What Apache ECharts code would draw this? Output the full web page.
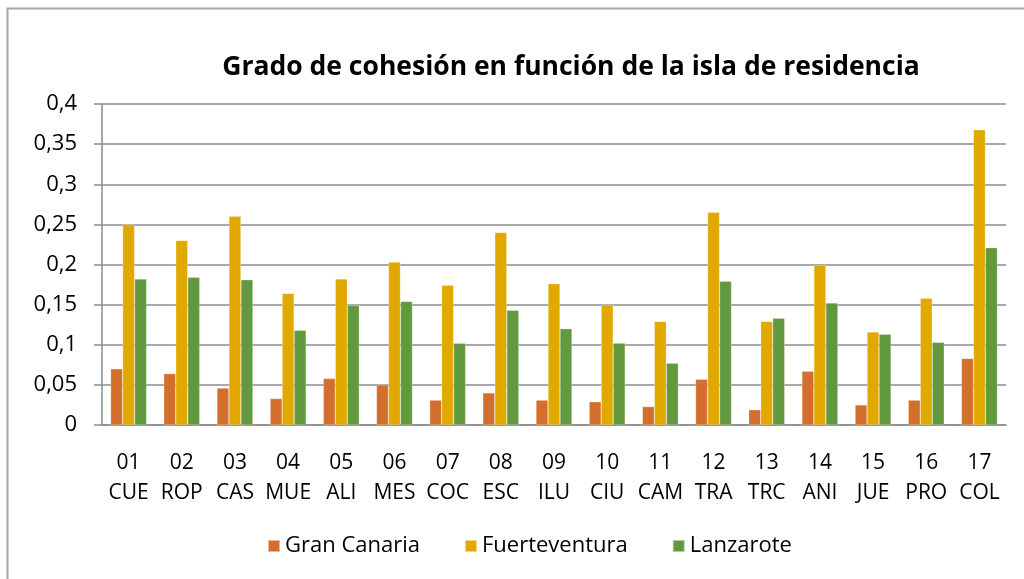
<!DOCTYPE html>
<html>
<head>
<meta charset="utf-8">
<script src="https://cdn.jsdelivr.net/npm/echarts@6/dist/echarts.min.js"></script>
<style>
  html, body { margin: 0; padding: 0; background: #fff; }
  #chart { width: 1024px; height: 579px; }
</style>
</head>
<body>
<div id="chart"></div>
<script>
// categorias (codigo + abreviatura)
const codes = ['01', '02', '03', '04', '05', '06', '07', '08', '09', '10', '11', '12', '13', '14', '15', '16', '17'];
const abbrs = ['CUE', 'ROP', 'CAS', 'MUE', 'ALI', 'MES', 'COC', 'ESC', 'ILU', 'CIU', 'CAM', 'TRA', 'TRC', 'ANI', 'JUE', 'PRO', 'COL'];

const granCanaria = [0.070, 0.064, 0.046, 0.033, 0.058, 0.050, 0.031, 0.040, 0.031, 0.029, 0.023, 0.057, 0.019, 0.067, 0.025, 0.031, 0.083];
const fuerteventura = [0.250, 0.230, 0.260, 0.164, 0.182, 0.203, 0.174, 0.240, 0.176, 0.150, 0.129, 0.265, 0.129, 0.199, 0.116, 0.158, 0.368];
const lanzarote = [0.182, 0.184, 0.181, 0.118, 0.149, 0.154, 0.102, 0.143, 0.120, 0.102, 0.077, 0.179, 0.133, 0.152, 0.113, 0.103, 0.221];

const seriesNames = ['Gran Canaria', 'Fuerteventura', 'Lanzarote'];
const colors = ['#D36F2C', '#E1A900', '#62993F'];

const categories = codes.map((c, i) => c + '\n' + abbrs[i]);
const font = '"Open Sans", "Noto Sans", sans-serif';

const chart = echarts.init(document.getElementById('chart'));

const mkSeries = (name, data, color) => ({
    name: name,
    type: 'bar',
    data: data,
    barWidth: 12,
    barGap: '0%',
    itemStyle: {color: color, borderColor: 'rgba(255,255,255,0.5)', borderWidth: 0.5},
    emphasis: {disabled: true},
});

chart.setOption({
    animation: false,
    color: colors,
    title: {
        text: 'Grado de cohesión en función de la isla de residencia',
        left: 566,
        textAlign: 'center',
        top: 49,
        textStyle: {fontFamily: font, fontWeight: 'bold', fontSize: 26.5, color: '#000'},
    },
    legend: {
        top: 530,
        left: 262,
        itemWidth: 12,
        itemHeight: 12,
        itemGap: 44,
        icon: 'rect',
        textStyle: {fontFamily: font, fontSize: 22, color: '#000'},
        data: seriesNames,
    },
    grid: {left: 102, right: 18, top: 104, bottom: 154, containLabel: false},
    xAxis: {
        type: 'category',
        data: categories,
        axisLine: {lineStyle: {color: '#8c8c8c', width: 1.5}},
        axisTick: {length: 8, lineStyle: {color: '#8c8c8c', width: 1.5}},
        axisLabel: {
            fontFamily: font, fontSize: 21, color: '#000',
            margin: 23, lineHeight: 30, interval: 0,
        },
    },
    yAxis: {
        type: 'value',
        min: 0,
        max: 0.4,
        interval: 0.05,
        axisLine: {show: true, lineStyle: {color: '#8c8c8c', width: 1.5}},
        axisTick: {show: true, length: 8, lineStyle: {color: '#8c8c8c', width: 1.5}},
        splitLine: {lineStyle: {color: '#8c8c8c', width: 1.5}},
        axisLabel: {
            fontFamily: font, fontSize: 22, color: '#000', margin: 25,
            formatter: v => String(+v.toFixed(2)).replace('.', ','),
        },
    },
    graphic: [{
        type: 'polyline',
        shape: {points: [[7.5, 579], [7.5, 8.5], [1024, 8.5]]},
        style: {stroke: '#a6a6a6', lineWidth: 2, fill: null},
        silent: true,
    }],
    series: [
        mkSeries(seriesNames[0], granCanaria, colors[0]),
        mkSeries(seriesNames[1], fuerteventura, colors[1]),
        mkSeries(seriesNames[2], lanzarote, colors[2]),
    ],
});
</script>
</body>
</html>
